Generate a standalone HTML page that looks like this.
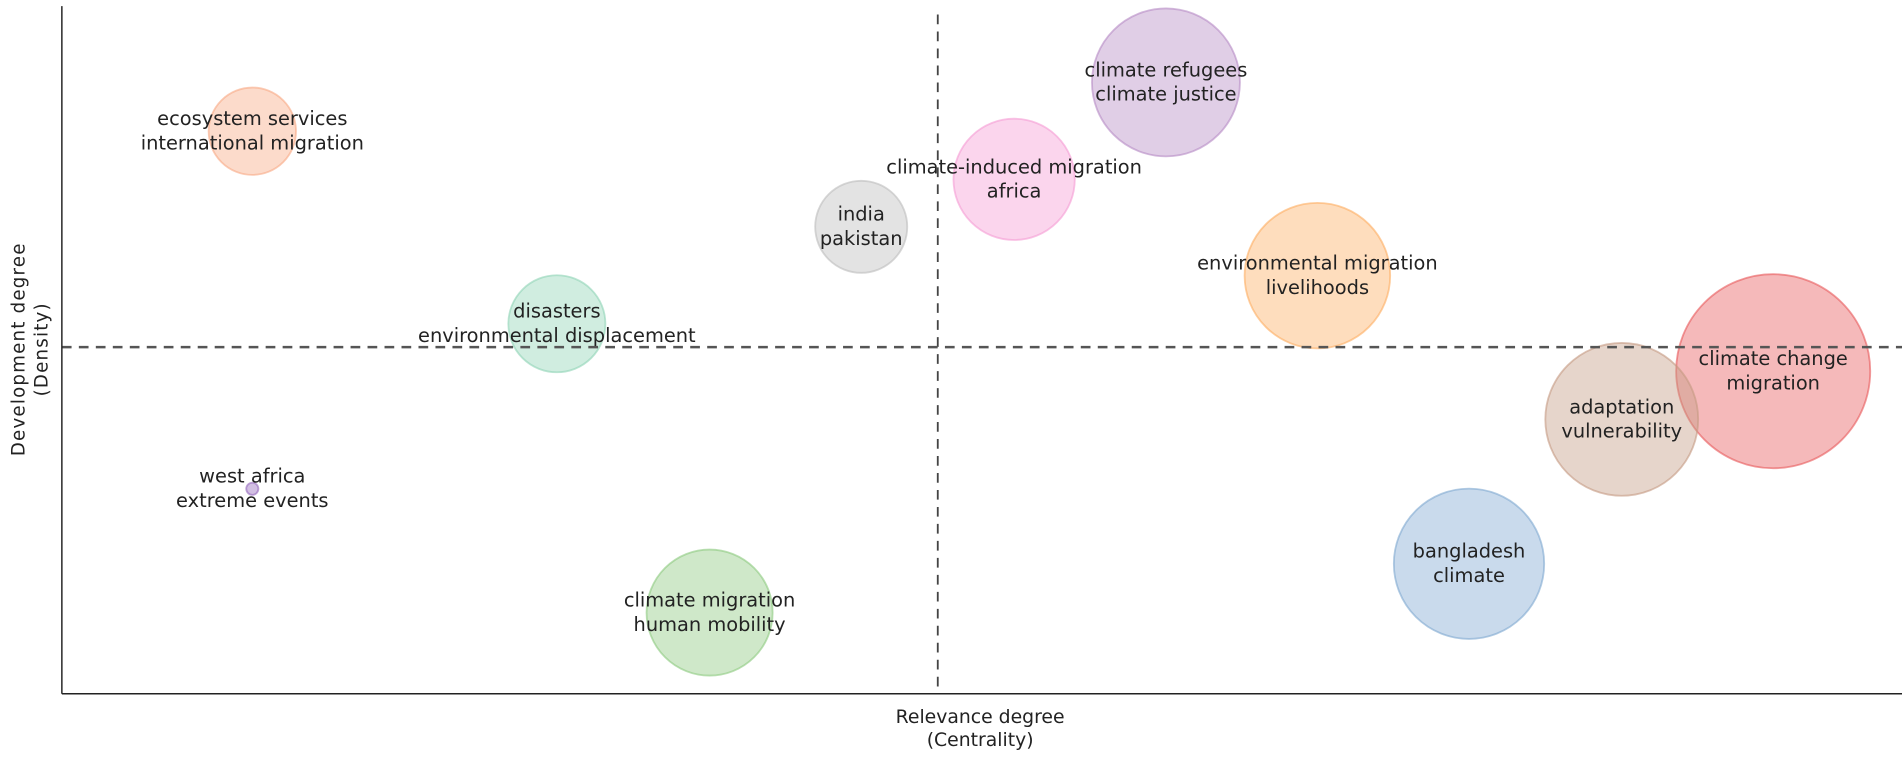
<!DOCTYPE html>
<html><head><meta charset="utf-8"><style>
html,body{margin:0;padding:0;background:#fff;}
svg{display:block;}
text{font-family:"DejaVu Sans","Liberation Sans",sans-serif;fill:#222;}
</style></head><body>
<svg id="chart" width="1902" height="758" viewBox="0 0 1568 625" preserveAspectRatio="none" xmlns="http://www.w3.org/2000/svg">
<g id="bubbles"></g>
<g id="lines"></g>
<g id="labels"></g>
<line x1="51" y1="5" x2="51" y2="572" stroke="#222" stroke-width="1.2"/>
<line x1="51" y1="572" x2="1568" y2="572" stroke="#222" stroke-width="1.2"/>
<text x="808" y="596" font-size="15.5" text-anchor="middle">Relevance degree</text>
<text x="808" y="615" font-size="15.5" text-anchor="middle">(Centrality)</text>
<text transform="translate(20,288) rotate(-90)" font-size="15" letter-spacing="1" text-anchor="middle">Development degree</text>
<text transform="translate(39,288) rotate(-90)" font-size="15" letter-spacing="1" text-anchor="middle">(Density)</text>
</svg>
<script>
const line1 = ["ecosystem services","climate refugees","climate-induced migration","india","environmental migration","disasters","climate change","adaptation","west africa","bangladesh","climate migration"];
const line2 = ["international migration","climate justice","africa","pakistan","livelihoods","environmental displacement","migration","vulnerability","extreme events","climate","human mobility"];
const centrality = [10.35,60.0,51.75,43.44,68.23,26.9,93.0,84.77,10.35,76.47,35.2];
const density = [81.8,88.9,74.8,67.9,60.8,53.8,46.9,39.9,29.8,18.9,11.8];
const sizes = [12.96,37.2,25,14.4,36,16,64,39.7,0.25,38.4,27];
const colors = ["#f9a983","#b58ac4","#f59bd4","#bdbdbd","#fdae61","#8fd3b5","#e8585a","#c49a82","#9467bd","#7fa8d1","#8cc97e"];
const medianX = 47.6;
const medianY = 50.4;

function xScale(v){return 51 + v*15.17;}
function yScale(v){return 572 - v*5.67;}
function rScale(s){return 10*Math.sqrt(s);}
const NS="http://www.w3.org/2000/svg";
const gb=document.getElementById('bubbles'), gl=document.getElementById('labels'), gq=document.getElementById('lines');
for(let i=0;i<line1.length;i++){
  const cx=xScale(centrality[i]), cy=yScale(density[i]);
  const c=document.createElementNS(NS,'circle');
  c.setAttribute('cx',cx);c.setAttribute('cy',cy);c.setAttribute('r',rScale(sizes[i]));
  c.setAttribute('fill',colors[i]);c.setAttribute('fill-opacity','0.42');
  c.setAttribute('stroke',colors[i]);c.setAttribute('stroke-opacity','0.6');c.setAttribute('stroke-width','1.5');
  
  
  gb.appendChild(c);
  const t=document.createElementNS(NS,'text');
  t.setAttribute('x',cx);t.setAttribute('y',cy-5);t.setAttribute('font-size','16');t.setAttribute('text-anchor','middle');
  t.textContent=line1[i];
  
  
  gl.appendChild(t);
  const t2=document.createElementNS(NS,'text');
  t2.setAttribute('x',cx);t2.setAttribute('y',cy+15);t2.setAttribute('font-size','16');t2.setAttribute('text-anchor','middle');
  t2.textContent=line2[i];
  
  
  gl.appendChild(t2);
}
const v=document.createElementNS(NS,'line');
v.setAttribute('x1',xScale(medianX));v.setAttribute('x2',xScale(medianX));v.setAttribute('y1',12);v.setAttribute('y2',572);
v.setAttribute('stroke','#444');v.setAttribute('stroke-width','1.5');v.setAttribute('stroke-dasharray','8,6');


gq.appendChild(v);
const h=document.createElementNS(NS,'line');
h.setAttribute('x1',51);h.setAttribute('x2',1568);h.setAttribute('y1',yScale(medianY));h.setAttribute('y2',yScale(medianY));
h.setAttribute('stroke','#555');h.setAttribute('stroke-width','2');h.setAttribute('stroke-dasharray','8,6');


gq.appendChild(h);
</script>
</body></html>
